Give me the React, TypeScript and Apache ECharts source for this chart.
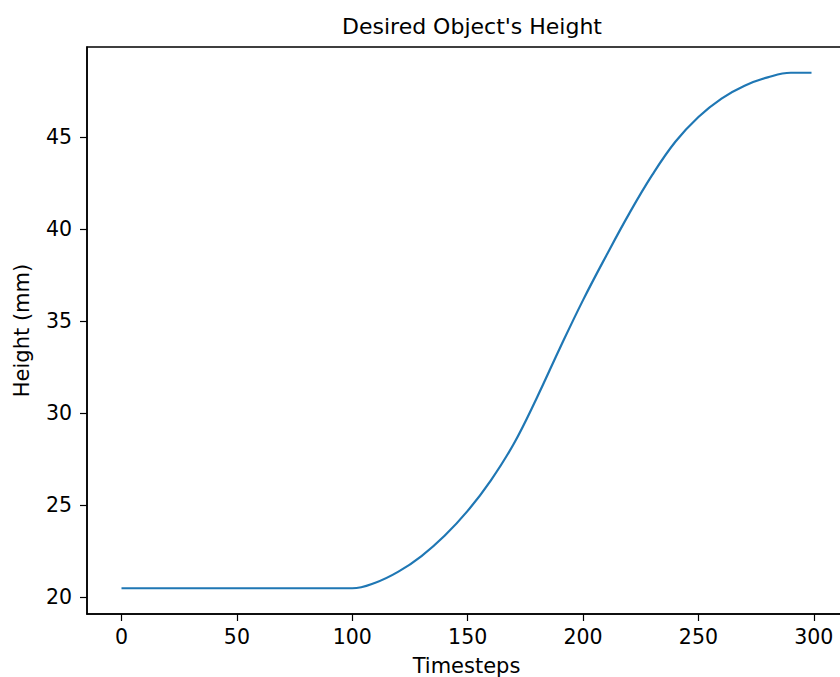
import React, { useEffect, useRef } from "react";
import * as echarts from "echarts";

const timesteps = [0, 10, 20, 30, 40, 50, 60, 70, 80, 90, 100, 110, 120, 130, 140, 150, 160, 170, 180, 190, 200, 210, 220, 230, 240, 250, 260, 270, 280, 290, 299];
const heights = [20.5, 20.5, 20.5, 20.5, 20.5, 20.5, 20.5, 20.5, 20.5, 20.5, 20.5, 20.8, 21.4, 22.25, 23.35, 24.7, 26.35, 28.35, 30.85, 33.55, 36.15, 38.55, 40.85, 42.95, 44.75, 46.1, 47.1, 47.8, 48.25, 48.5, 48.5];
const xTicks = [0, 50, 100, 150, 200, 250, 300];
const yTicks = [20, 25, 30, 35, 40, 45];

const FONT = "DejaVu Sans";

export default function App() {
  const ref = useRef<HTMLDivElement>(null);
  useEffect(() => {
    if (!ref.current) return;
    const chart = echarts.init(ref.current, undefined, { renderer: "svg" });
    chart.setOption({
      animation: false,
      backgroundColor: "#ffffff",
      title: {
        text: "Desired Object's Height",
        left: 467,
        top: 10,
        textAlign: "center",
        textStyle: { fontFamily: FONT, fontSize: 22, fontWeight: "normal", color: "#000" },
      },
      grid: {
        left: 87,
        top: 47,
        width: 759,
        height: 567,
        show: true,
        borderColor: "#000",
        borderWidth: 1.5,
        backgroundColor: "transparent",
        containLabel: false,
        outerBoundsMode: "none",
      },
      xAxis: {
        type: "value",
        min: -14.95,
        max: 313.95,
        name: "Timesteps",
        nameLocation: "middle",
        nameGap: 41,
        nameTextStyle: { fontFamily: FONT, fontSize: 21, color: "#000" },
        splitLine: { show: false },
        axisLine: { show: true, onZero: false, lineStyle: { color: "#000", width: 1.5 } },
        axisTick: { show: true, length: 7, lineStyle: { color: "#000", width: 1.2 }, customValues: xTicks },
        axisLabel: { fontFamily: FONT, fontSize: 20.5, color: "#000", margin: 12, customValues: xTicks },
      },
      yAxis: {
        type: "value",
        min: 19.1,
        max: 49.9,
        name: "Height (mm)",
        nameLocation: "middle",
        nameGap: 55,
        nameRotate: 90,
        nameTextStyle: { fontFamily: FONT, fontSize: 21, color: "#000" },
        splitLine: { show: false },
        axisLine: { show: true, onZero: false, lineStyle: { color: "#000", width: 1.5 } },
        axisTick: { show: true, length: 7, lineStyle: { color: "#000", width: 1.2 }, customValues: yTicks },
        axisLabel: { fontFamily: FONT, fontSize: 20.5, color: "#000", margin: 15, customValues: yTicks },
      },
      series: [
        {
          type: "line",
          data: timesteps.map((t, i) => [t, heights[i]]),
          showSymbol: false,
          smooth: 0.4,
          lineStyle: { color: "#1f77b4", width: 2.2 },
          itemStyle: { color: "#1f77b4" },
        },
      ],
    });
    return () => chart.dispose();
  }, []);
  return <div ref={ref} style={{ width: 840, height: 677, position: "fixed", left: 0, top: 0 }} />;
}
